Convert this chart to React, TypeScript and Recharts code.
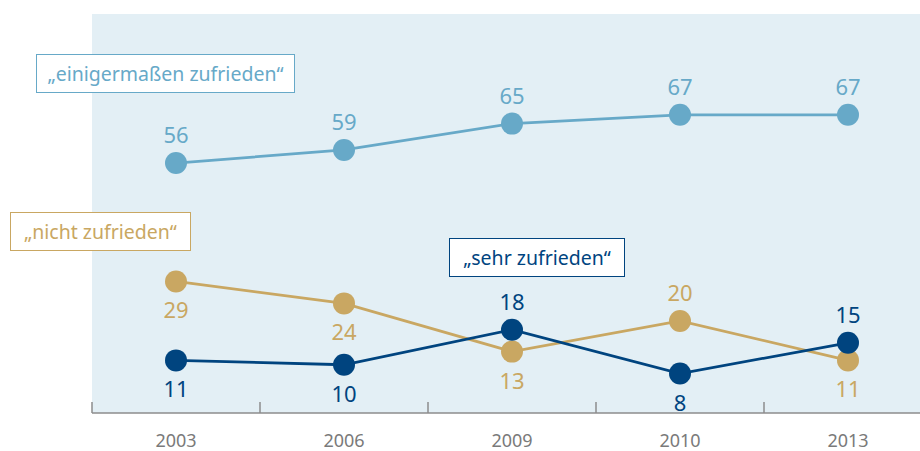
import React from 'react';
import { LineChart, Line, XAxis, YAxis, CartesianGrid, LabelList } from 'recharts';

// survey years and shares (percent) per answer
const years = ['2003', '2006', '2009', '2010', '2013'];
const einigermassen = [56, 59, 65, 67, 67];
const nichtZufrieden = [29, 24, 13, 20, 11];
const sehrZufrieden = [11, 10, 18, 8, 15];

// which side of the dot each value label sits on
const einigSide = ['top', 'top', 'top', 'top', 'top'];
const nichtSide = ['bottom', 'bottom', 'bottom', 'top', 'bottom'];
const sehrSide = ['bottom', 'bottom', 'top', 'bottom', 'top'];

const LIGHT = '#67a9c8';
const TAN = '#c9a762';
const NAVY = '#00447f';
const FONT = '"Noto Sans", "Open Sans", sans-serif';

const data = years.map((year, i) => ({
  year,
  einig: einigermassen[i],
  nicht: nichtZufrieden[i],
  sehr: sehrZufrieden[i],
}));

const makeLabel = (color: string, sides: string[]) => (props: any) => {
  const { x, y, value, index } = props;
  const dy = sides[index] === 'top' ? -20 : 37;
  return (
    <text x={x} y={y + dy} textAnchor="middle" fill={color} fontSize={22}>
      {value}
    </text>
  );
};

const YearTick = (props: any) => {
  const { x, y, payload } = props;
  const half = payload.offset ?? 0;
  return (
    <g>
      <line x1={x - half} x2={x - half} y1={y} y2={y - 11} stroke="#8c8c8c" strokeWidth={1.5} />
      <text x={x} y={y + 34} textAnchor="middle" fill="#7a7a7a" fontSize={18}>
        {payload.value}
      </text>
    </g>
  );
};

const boxStyle = (left: number, top: number, width: number, height: number, color: string): React.CSSProperties => ({
  position: 'absolute',
  left,
  top,
  width,
  height,
  boxSizing: 'border-box',
  border: `1.5px solid ${color}`,
  background: '#fff',
  color,
  fontSize: 19.5,
  display: 'flex',
  alignItems: 'center',
  justifyContent: 'center',
});

export default function App() {
  return (
    <div style={{ position: 'fixed', left: 0, top: 0, width: 920, height: 451, overflow: 'hidden', fontFamily: FONT, background: '#fff' }}>
      <LineChart width={940} height={451} data={data} margin={{ top: 14, right: 8, bottom: 0, left: 92 }}>
        <CartesianGrid fill="#e3eff5" stroke="none" horizontal={false} vertical={false} />
        <XAxis
          dataKey="year"
          scale="band"
          height={38}
          tickLine={false}
          tickSize={0}
          tickMargin={0}
          axisLine={{ stroke: '#8c8c8c', strokeWidth: 1.5 }}
          tick={<YearTick />}
          interval={0}
        />
        <YAxis hide domain={[-1, 90]} />
        <Line
          dataKey="einig"
          stroke={LIGHT}
          strokeWidth={2.8}
          dot={{ r: 11, fill: LIGHT, stroke: 'none' }}
          activeDot={false}
          isAnimationActive={false}
        >
          <LabelList dataKey="einig" content={makeLabel(LIGHT, einigSide)} />
        </Line>
        <Line
          dataKey="nicht"
          stroke={TAN}
          strokeWidth={2.8}
          dot={{ r: 11, fill: TAN, stroke: 'none' }}
          activeDot={false}
          isAnimationActive={false}
        >
          <LabelList dataKey="nicht" content={makeLabel(TAN, nichtSide)} />
        </Line>
        <Line
          dataKey="sehr"
          stroke={NAVY}
          strokeWidth={2.8}
          dot={{ r: 11, fill: NAVY, stroke: 'none' }}
          activeDot={false}
          isAnimationActive={false}
        >
          <LabelList dataKey="sehr" content={makeLabel(NAVY, sehrSide)} />
        </Line>
      </LineChart>
      <div style={boxStyle(36, 54, 259, 39, LIGHT)}>„einigermaßen zufrieden“</div>
      <div style={boxStyle(10, 212, 181, 39, TAN)}>„nicht zufrieden“</div>
      <div style={boxStyle(449, 238, 176, 39, NAVY)}>„sehr zufrieden“</div>
    </div>
  );
}
